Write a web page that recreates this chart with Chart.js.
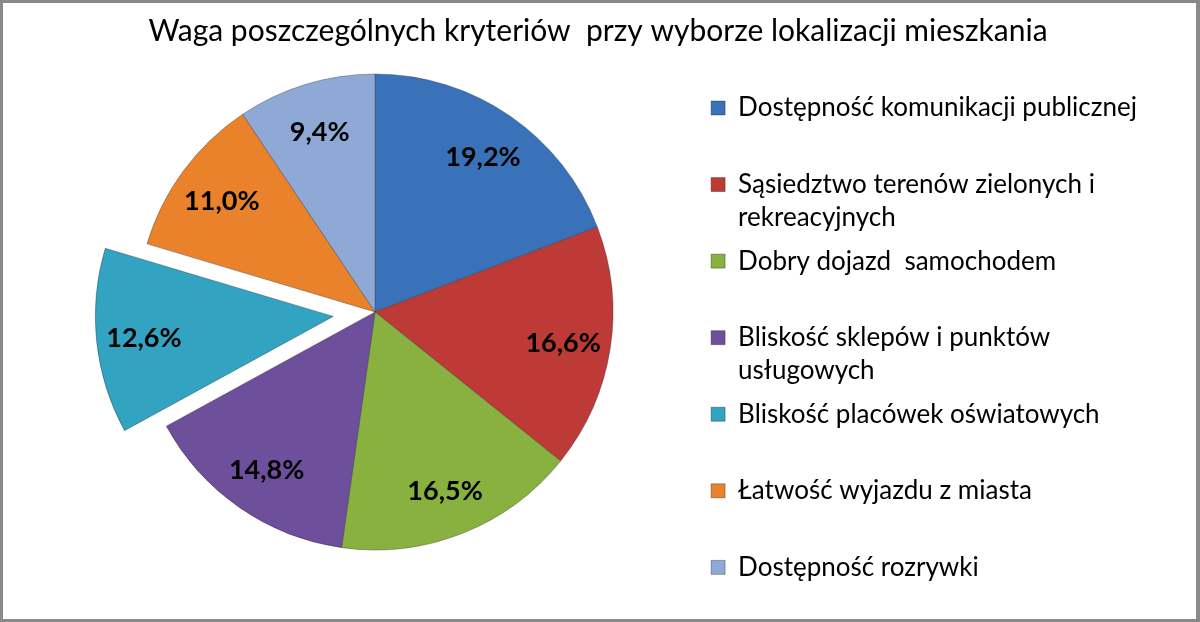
<!DOCTYPE html>
<html>
<head>
<meta charset="utf-8">
<script src="https://cdn.jsdelivr.net/npm/chart.js@4.4.1/dist/chart.umd.min.js"></script>
<style>
  html, body { margin: 0; padding: 0; background: #fff; }
  #frame { width: 1200px; height: 622px; box-sizing: border-box; border: 3px solid #8a8a8a; border-right-width: 4px; background: #fff; }
  #frame canvas { display: block; }
</style>
</head>
<body>
<div id="frame"><canvas id="pieChart" width="1193" height="616"></canvas></div>
<script>
const chartTitle = "Waga poszczególnych kryteriów  przy wyborze lokalizacji mieszkania";

// legend text, one array per item (two lines where the original wraps)
const categories = [
    ["Dostępność komunikacji publicznej"],
    ["Sąsiedztwo terenów zielonych i", "rekreacyjnych"],
    ["Dobry dojazd  samochodem"],
    ["Bliskość sklepów i punktów", "usługowych"],
    ["Bliskość placówek oświatowych"],
    ["Łatwość wyjazdu z miasta"],
    ["Dostępność rozrywki"]
];
const values = [19.2, 16.6, 16.5, 14.8, 12.6, 11.0, 9.4];
const colors = ["#3a72b9", "#be3a36", "#89b140", "#6e4f9b", "#32a3c1", "#e9822b", "#8fa9d6"];

const explodedIndex = 4;
const explodeDistance = 42;

// pull the one slice out of the pie, like Excel's "explode"
const explodePlugin = {
    id: "explode",
    afterDatasetsUpdate(chart) {
        const arc = chart.getDatasetMeta(0).data[explodedIndex];
        if (!arc) return;
        const mid = (arc.startAngle + arc.endAngle) / 2;
        arc.x += Math.cos(mid) * explodeDistance;
        arc.y += Math.sin(mid) * explodeDistance;
    }
};

// percentage labels inside the slices
const valueLabels = {
    id: "valueLabels",
    afterDatasetsDraw(chart) {
        const ctx = chart.ctx;
        ctx.save();
        ctx.font = "bold 27px Lato";
        ctx.fillStyle = "#000";
        ctx.textAlign = "center";
        ctx.textBaseline = "middle";
        chart.getDatasetMeta(0).data.forEach((arc, i) => {
            const mid = (arc.startAngle + arc.endAngle) / 2;
            const r = arc.outerRadius * 0.8;
            const txt = values[i].toFixed(1).replace(".", ",") + "%";
            ctx.fillText(txt, arc.x + Math.cos(mid) * r, arc.y + Math.sin(mid) * r + 2);
        });
        ctx.restore();
    }
};

const ctx = document.getElementById("pieChart").getContext("2d");
const chart = new Chart(ctx, {
    type: "pie",
    data: {
        labels: categories,
        datasets: [{
            data: values,
            backgroundColor: colors,
            borderColor: "rgba(40,40,40,0.35)",
            borderWidth: 1,
            radius: 238
        }]
    },
    options: {
        responsive: false,
        animation: false,
        events: [],
        layout: { padding: { left: 46, right: 49, top: 0, bottom: 0 } },
        plugins: {
            title: {
                display: true,
                text: chartTitle,
                color: "#000",
                font: { family: "Lato", size: 30, weight: "normal" },
                padding: { top: 10, bottom: 12 }
            },
            // empty bottom box: keeps the pie off the bottom without shrinking the legend
            subtitle: {
                display: true,
                position: "bottom",
                fullSize: false,
                text: " ",
                font: { size: 10, lineHeight: 1.2 },
                padding: { top: 44, bottom: 0 }
            },
            legend: {
                position: "right",
                align: "start",
                title: {
                    display: true,
                    text: " ",
                    font: { size: 12, lineHeight: 1 },
                    padding: { top: 70, bottom: 0 }
                },
                labels: {
                    color: "#000",
                    font: { family: "Lato", size: 26, lineHeight: 1.28 },
                    boxWidth: 14,
                    boxHeight: 14,
                    padding: 10,
                    generateLabels() {
                        const last = categories.length - 1;
                        return categories.map((lines, i) => ({
                            // pad to two lines so every entry takes the same room
                            text: i === last ? lines[0] : [lines[0], lines[1] || ""],
                            fillStyle: colors[i],
                            strokeStyle: "rgba(0,0,0,0.3)",
                            fontColor: "#000",
                            lineWidth: 1,
                            hidden: false,
                            index: i
                        }));
                    }
                }
            },
            tooltip: { enabled: false }
        }
    },
    plugins: [explodePlugin, valueLabels]
});
</script>
</body>
</html>
